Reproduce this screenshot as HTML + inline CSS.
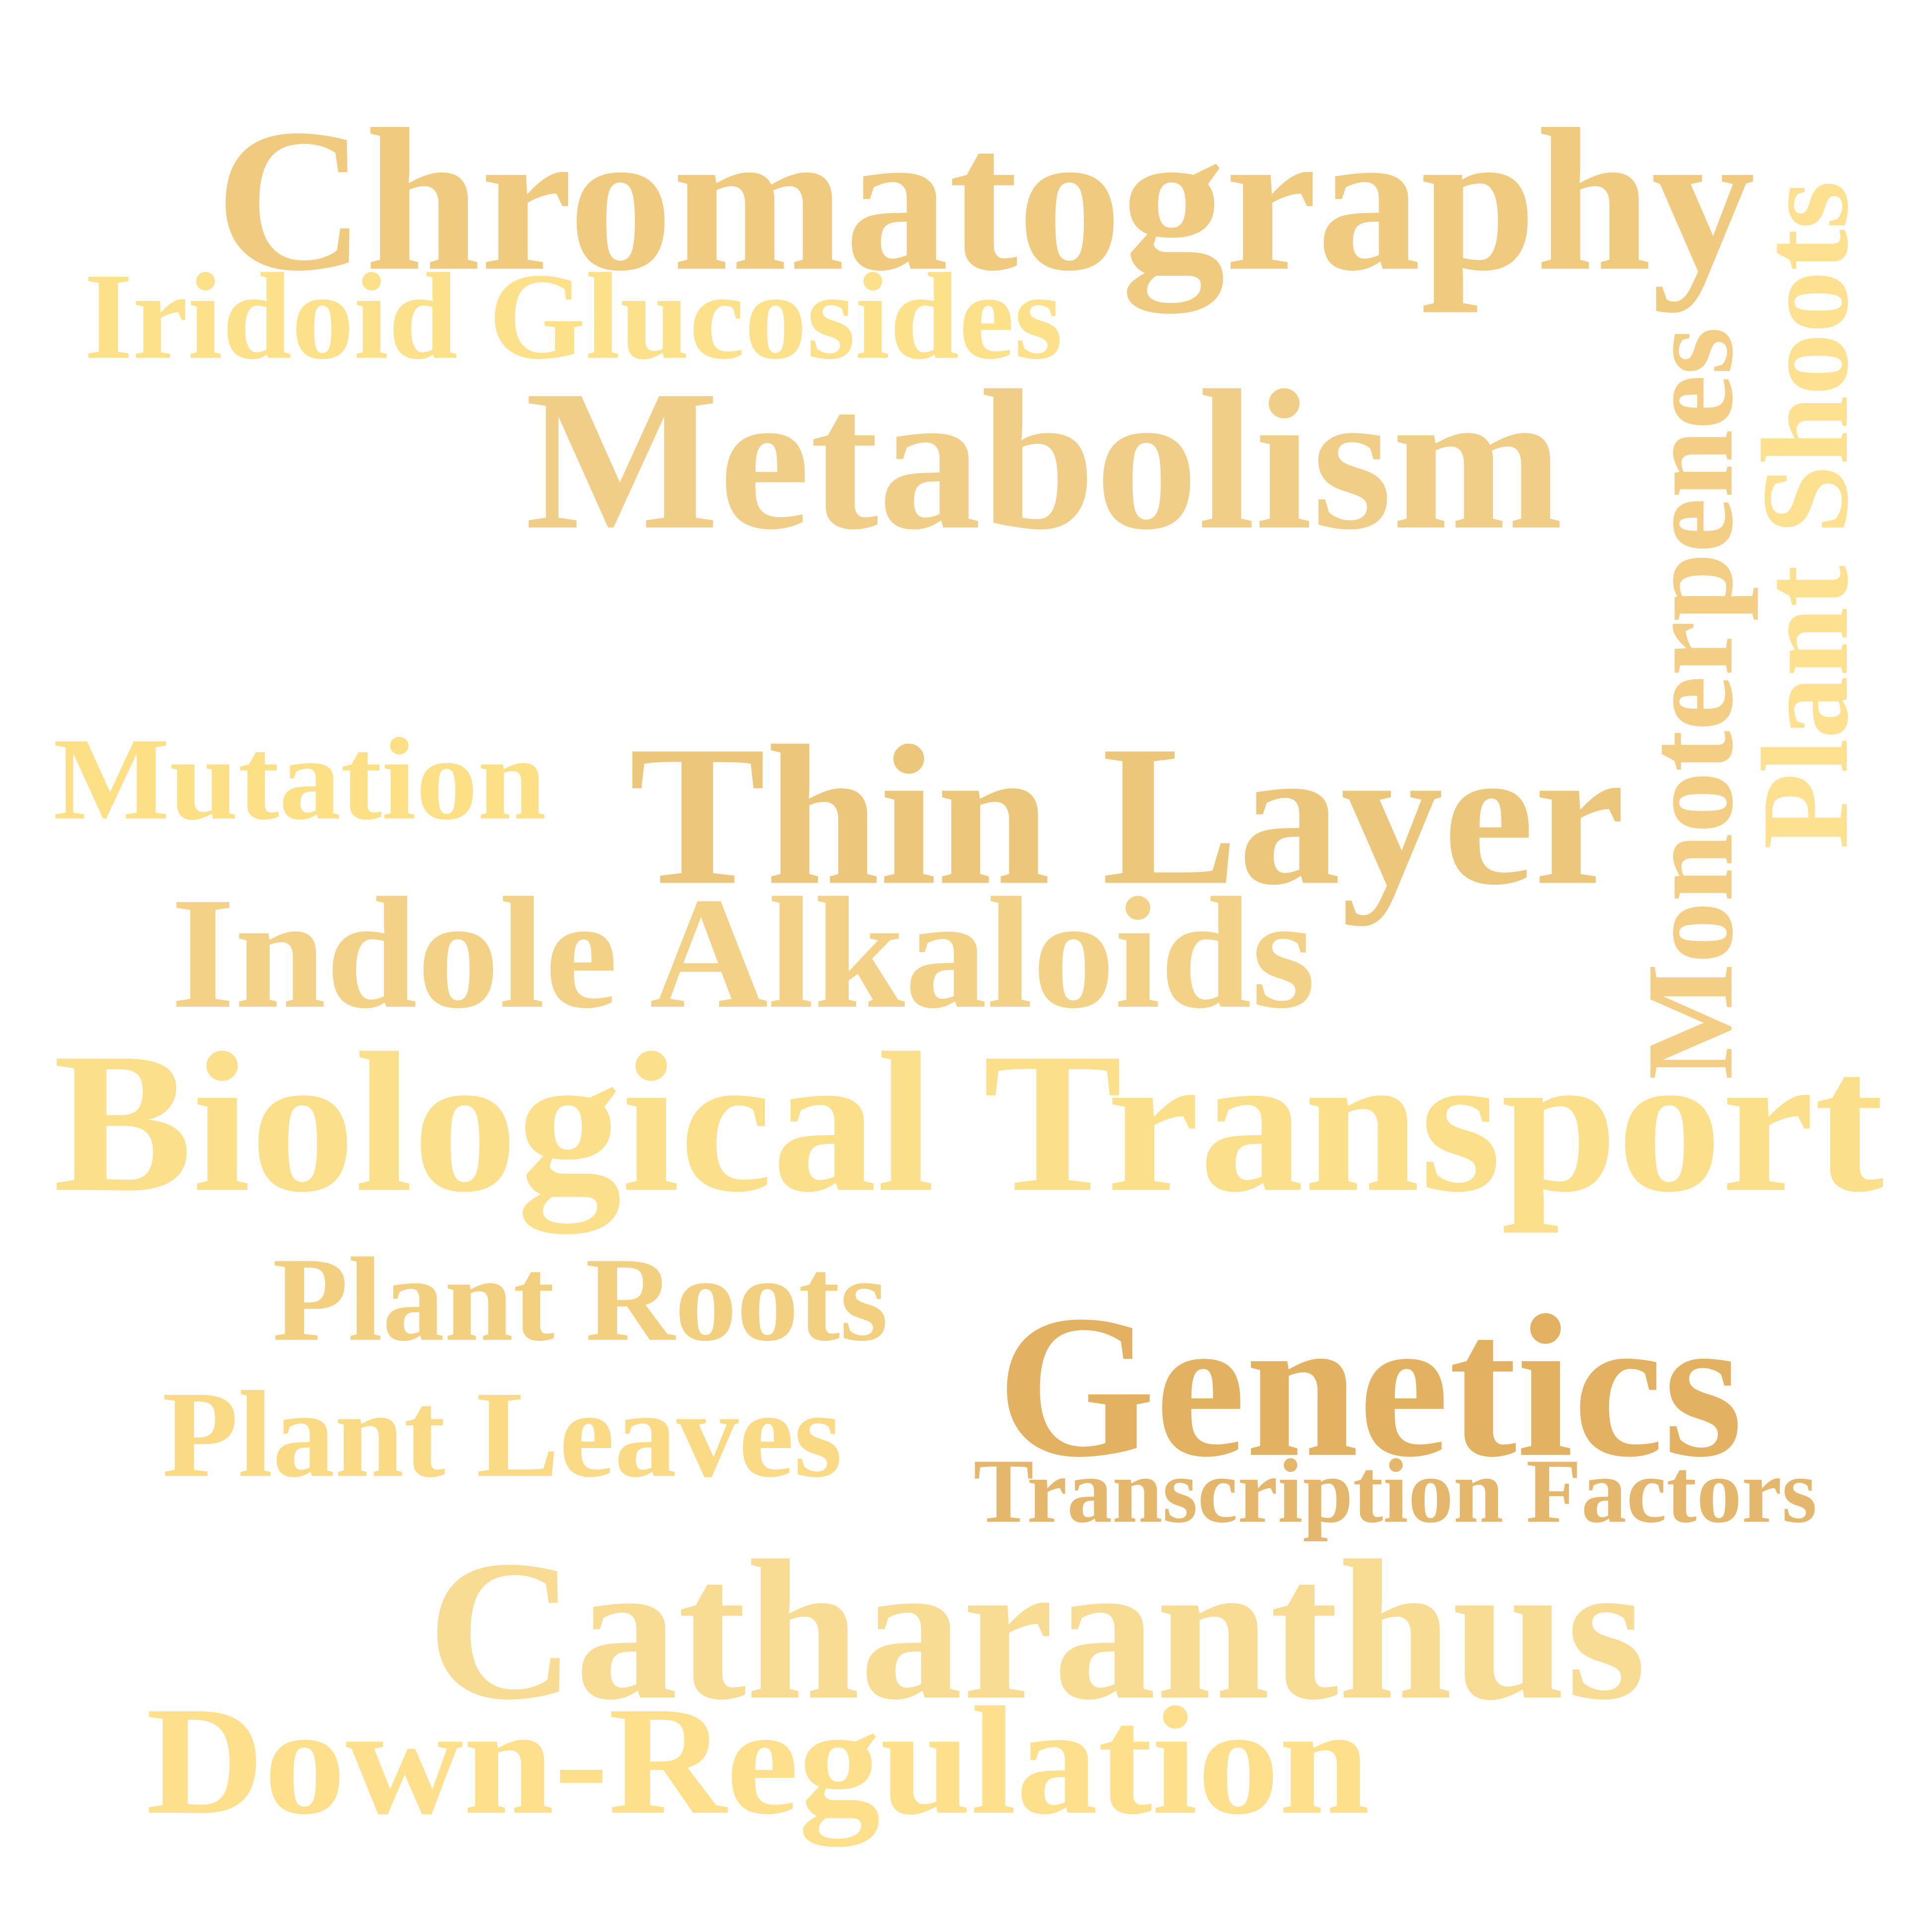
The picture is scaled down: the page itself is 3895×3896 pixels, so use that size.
<!DOCTYPE html>
<html><head><meta charset="utf-8"><style>
html,body{margin:0;padding:0;background:#fff;}
svg{display:block;}
text{font-family:"Liberation Serif",serif;font-weight:bold;}
</style></head><body>
<svg id="cloud" width="3895" height="3896" viewBox="0 0 1559.9 1560.3" xmlns="http://www.w3.org/2000/svg"></svg>
<script>
const words = ["Chromatography","Iridoid Glucosides","Metabolism","Mutation","Thin Layer","Indole Alkaloids","Biological Transport","Plant Roots","Plant Leaves","Genetics","Transcription Factors","Catharanthus","Down-Regulation","Monoterpenes","Plant Shoots"];
const fontSizes = [165,100,162,95,162,129,162,97,100,165,74,162,125,100,100];
const colors = ["#F0CB7F","#FCE08A","#F1CE88","#FDE086","#ECC77B","#F3D287","#FCDF8A","#F3D080","#FBDA85","#E2B262","#E4B76C","#F8DC93","#FEE08C","#F3CE84","#FDE190"];
const xStart = [174,68,424,43,508,138,43,220,131,805,786,345,118,1398,1491];
const baseline = [217,289,426,661,713,813,961,1082,1192,1175,1229,1371,1464,872,686];
const lengths = [1243,790,838,398,804,924,1478,497,549,602,681,984,988,608,540];
const rotated = [0,0,0,0,0,0,0,0,0,0,0,0,0,1,1];
const svg = document.getElementById('cloud');
const NS = "http://www.w3.org/2000/svg";
for (let i = 0; i < words.length; i++) {
  const t = document.createElementNS(NS, 'text');
  
  
  t.setAttribute('font-size', fontSizes[i]);
  t.setAttribute('fill', colors[i]);
  t.setAttribute('textLength', lengths[i]);
  t.setAttribute('lengthAdjust', 'spacingAndGlyphs');
  if (rotated[i]) {
    t.setAttribute('transform', 'translate(' + xStart[i] + ',' + baseline[i] + ') rotate(-90)');
    t.setAttribute('x', 0); t.setAttribute('y', 0);
  } else {
    t.setAttribute('x', xStart[i]); t.setAttribute('y', baseline[i]);
  }
  t.textContent = words[i];
  svg.appendChild(t);
}
</script>
</body></html>
